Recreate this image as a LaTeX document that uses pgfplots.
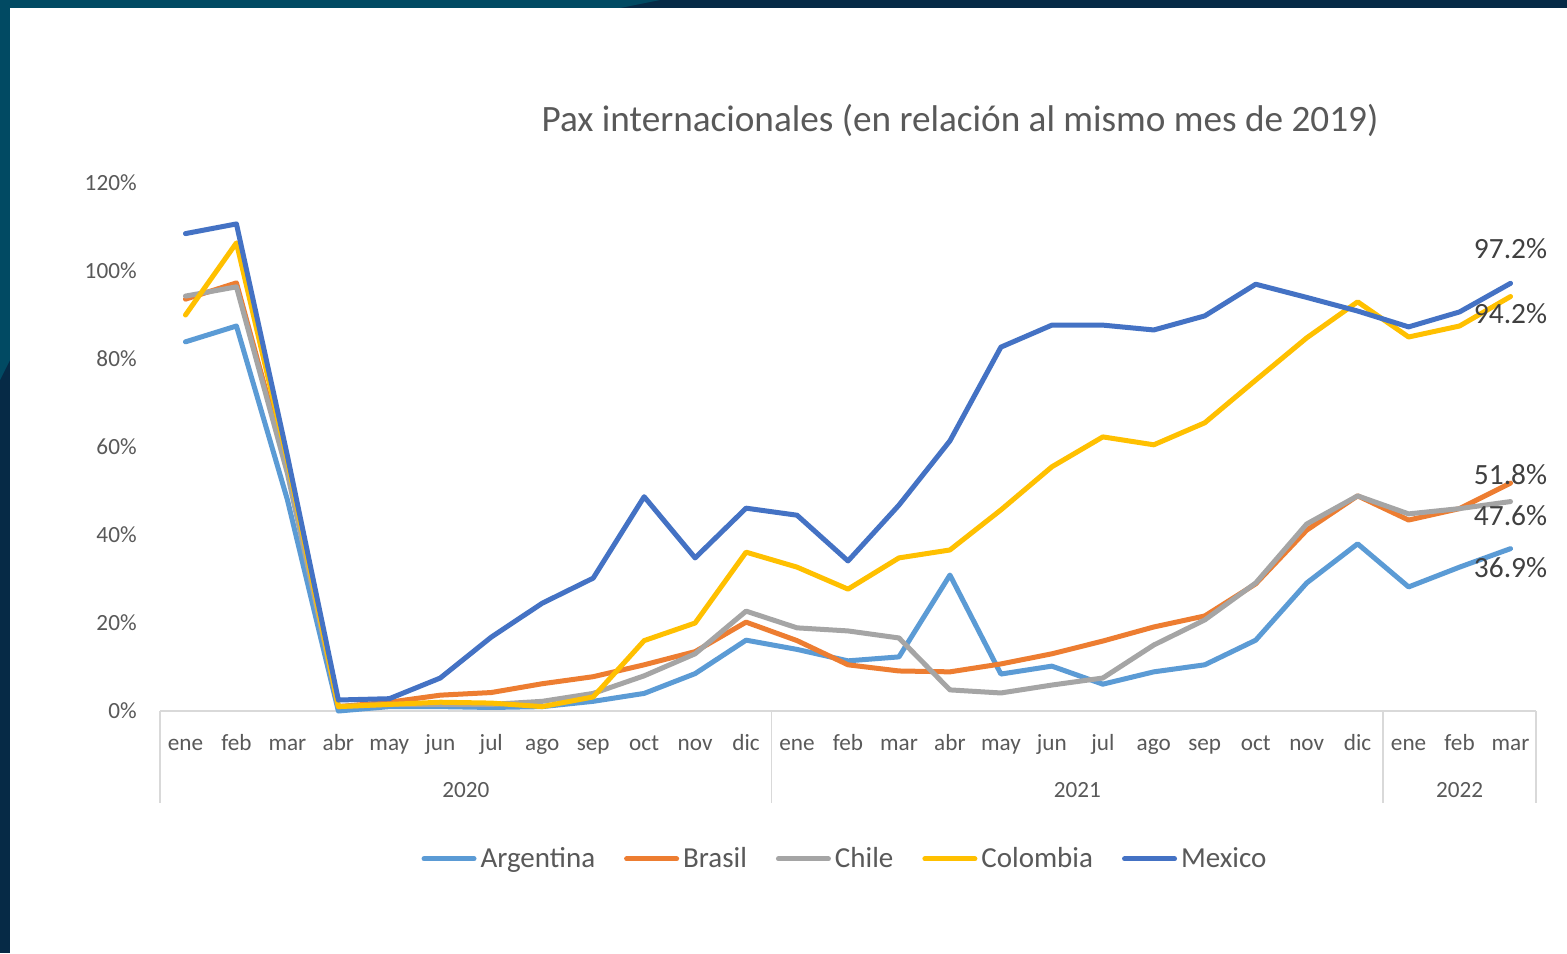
\documentclass[border=0pt]{standalone}
\usepackage{pgfplots}
\pgfplotsset{compat=1.18}
\usepackage{fontspec}
\setmainfont{Carlito}
\definecolor{cArg}{HTML}{5B9BD5}
\definecolor{cBra}{HTML}{ED7D31}
\definecolor{cChi}{HTML}{A5A5A5}
\definecolor{cCol}{HTML}{FFC000}
\definecolor{cMex}{HTML}{4472C4}
\definecolor{txt}{HTML}{595959}
\definecolor{lbl}{HTML}{404040}
\definecolor{navy}{HTML}{062A46}
\definecolor{teal}{HTML}{014A63}
\definecolor{sep}{HTML}{D9D9D9}
\begin{document}
\begin{tikzpicture}[x=1pt,y=1pt]
\fill[navy] (0,0) rectangle (783.5,-476.5);
\fill[teal] (0,0) -- (330,0) -- (310,-4) -- (5,-4) -- (5,-180) -- (0,-190) -- cycle;
\fill[white] (5,-4) rectangle (783.5,-476.5);
\node[text=txt, font=\fontsize{18.6}{22}\selectfont] at (480,-60) {Pax internacionales (en relación al mismo mes de 2019)};
\begin{axis}[
  at={(80pt,-355.5pt)}, anchor=south west,
  scale only axis, width=688pt, height=264pt,
  xmin=-0.5, xmax=26.5, ymin=0, ymax=120,
  clip=false,
  axis x line*=bottom, axis y line*=left,
  axis line style={-},
  x axis line style={draw=sep, line width=0.8pt},
  y axis line style={draw=none},
  major tick length=0pt,
  xtick={0,...,26},
  xticklabels={ene,feb,mar,abr,may,jun,jul,ago,sep,oct,nov,dic,ene,feb,mar,abr,may,jun,jul,ago,sep,oct,nov,dic,ene,feb,mar},
  ytick={0,20,40,60,80,100,120},
  yticklabels={0\%,20\%,40\%,60\%,80\%,100\%,120\%},
  tick label style={text=txt, font=\fontsize{11.6}{14}\selectfont, inner sep=0pt},
  xticklabel style={anchor=base, yshift=-19.5pt},
  yticklabel style={anchor=east, xshift=-11.5pt},
  legend columns=5,
  legend style={at={(0.4985,-0.28)}, anchor=center, draw=none, fill=none,
    font=\fontsize{14.5}{17}\selectfont, text=txt,
    /tikz/every even column/.append style={column sep=12.5pt}},
  legend image code/.code={\draw[#1, line width=2.5pt, line cap=round] (0pt,0pt) -- (25pt,0pt);},
  every axis plot/.append style={line width=2.5pt, line join=round, line cap=round, mark=none},
]
\addplot[cArg] table[row sep=\\] {x y\\
0 83.9\\ 1 87.5\\ 2 48\\ 3 0\\ 4 1\\ 5 1\\ 6 0.8\\ 7 1\\ 8 2.2\\ 9 4\\ 10 8.5\\ 11 16.1\\
12 14\\ 13 11.4\\ 14 12.3\\ 15 30.9\\ 16 8.4\\ 17 10.2\\ 18 6.1\\ 19 8.9\\ 20 10.5\\ 21 16.1\\ 22 29.1\\ 23 38\\
24 28.2\\ 25 32.7\\ 26 36.9\\};
\addlegendentry{Argentina}
\addplot[cBra] table[row sep=\\] {x y\\
0 93.6\\ 1 97.3\\ 2 55\\ 3 1\\ 4 2\\ 5 3.6\\ 6 4.2\\ 7 6.2\\ 8 7.8\\ 9 10.5\\ 10 13.5\\ 11 20.2\\
12 16\\ 13 10.5\\ 14 9.1\\ 15 8.9\\ 16 10.7\\ 17 13\\ 18 15.9\\ 19 19.1\\ 20 21.6\\ 21 28.9\\ 22 41.1\\ 23 48.9\\
24 43.4\\ 25 46\\ 26 51.8\\};
\addlegendentry{Brasil}
\addplot[cChi] table[row sep=\\] {x y\\
0 94.3\\ 1 96.4\\ 2 54\\ 3 1\\ 4 1.5\\ 5 1.5\\ 6 1.5\\ 7 2.2\\ 8 4\\ 9 8\\ 10 13\\ 11 22.7\\
12 18.9\\ 13 18.2\\ 14 16.6\\ 15 4.8\\ 16 4.1\\ 17 5.9\\ 18 7.5\\ 19 15\\ 20 20.7\\ 21 29.1\\ 22 42.5\\ 23 48.9\\
24 44.8\\ 25 46\\ 26 47.6\\};
\addlegendentry{Chile}
\addplot[cCol] table[row sep=\\] {x y\\
0 90\\ 1 106.4\\ 2 57\\ 3 1\\ 4 1.5\\ 5 2\\ 6 1.8\\ 7 1\\ 8 3.2\\ 9 16\\ 10 20\\ 11 36.1\\
12 32.7\\ 13 27.7\\ 14 34.8\\ 15 36.6\\ 16 45.7\\ 17 55.5\\ 18 62.3\\ 19 60.5\\ 20 65.5\\ 21 75.2\\ 22 84.8\\ 23 93\\
24 85\\ 25 87.5\\ 26 94.2\\};
\addlegendentry{Colombia}
\addplot[cMex] table[row sep=\\] {x y\\
0 108.5\\ 1 110.7\\ 2 58\\ 3 2.5\\ 4 2.8\\ 5 7.5\\ 6 16.8\\ 7 24.5\\ 8 30.2\\ 9 48.7\\ 10 34.8\\ 11 46.1\\
12 44.5\\ 13 34.1\\ 14 46.8\\ 15 61.4\\ 16 82.7\\ 17 87.7\\ 18 87.7\\ 19 86.6\\ 20 89.8\\ 21 97\\ 22 94\\ 23 90.9\\
24 87.3\\ 25 90.7\\ 26 97.2\\};
\addlegendentry{Mexico}
% category separators
\draw[sep, line width=0.8pt] (axis cs:-0.5,0) -- ([yshift=-46pt]axis cs:-0.5,0);
\draw[sep, line width=0.8pt] (axis cs:11.5,0) -- ([yshift=-46pt]axis cs:11.5,0);
\draw[sep, line width=0.8pt] (axis cs:23.5,0) -- ([yshift=-46pt]axis cs:23.5,0);
\draw[sep, line width=0.8pt] (axis cs:26.5,0) -- ([yshift=-46pt]axis cs:26.5,0);
\node[text=txt, font=\fontsize{11.6}{14}\selectfont, anchor=base] at ([yshift=-43pt]axis cs:5.5,0) {2020};
\node[text=txt, font=\fontsize{11.6}{14}\selectfont, anchor=base] at ([yshift=-43pt]axis cs:17.5,0) {2021};
\node[text=txt, font=\fontsize{11.6}{14}\selectfont, anchor=base] at ([yshift=-43pt]axis cs:25,0) {2022};
% data labels
\node[text=lbl, font=\fontsize{14.7}{17}\selectfont] at ([yshift=17.5pt]axis cs:26,97.2) {97.2\%};
\node[text=lbl, font=\fontsize{14.7}{17}\selectfont] at ([yshift=-8.5pt]axis cs:26,94.2) {94.2\%};
\node[text=lbl, font=\fontsize{14.7}{17}\selectfont] at ([yshift=4.5pt]axis cs:26,51.8) {51.8\%};
\node[text=lbl, font=\fontsize{14.7}{17}\selectfont] at ([yshift=-7pt]axis cs:26,47.6) {47.6\%};
\node[text=lbl, font=\fontsize{14.7}{17}\selectfont] at ([yshift=-9.5pt]axis cs:26,36.9) {36.9\%};
\end{axis}
\end{tikzpicture}
\end{document}
